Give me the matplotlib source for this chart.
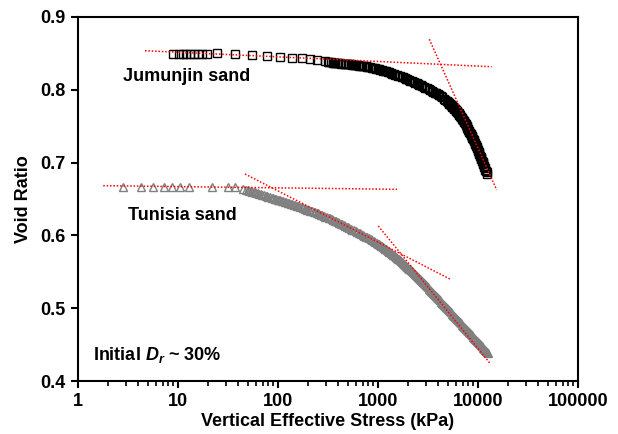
import matplotlib
matplotlib.use("Agg")
import matplotlib.pyplot as plt
from matplotlib.ticker import FixedLocator, FixedFormatter, LogLocator, NullFormatter

plt.rcParams['font.family'] = ['Liberation Sans', 'DejaVu Sans']
plt.rcParams['font.weight'] = 'bold'
plt.rcParams['mathtext.fontset'] = 'custom'
plt.rcParams['mathtext.rm'] = 'Liberation Sans:bold'
plt.rcParams['mathtext.it'] = 'Liberation Sans:bold:italic'

# ---- Jumunjin sand (vertical effective stress kPa, void ratio) ----
jum_stress = [8.9, 10.2, 11.2, 12.0, 13.2, 14.5, 15.8, 17.4, 19.5, 24.5, 37, 55, 78, 105, 138, 174, 209, 245, 295,
              316.2, 327.3, 338.8, 350.8, 363.1, 375.8, 389.0, 402.7, 416.9, 431.5, 446.7, 462.4, 478.6, 495.5,
              512.9, 530.9, 549.5, 568.9, 588.8, 609.5, 631.0, 653.1, 676.1, 699.8, 724.4, 749.9, 776.2, 803.5,
              831.8, 861.0, 891.3, 922.6, 955.0, 988.6, 1023, 1059, 1096, 1135, 1175, 1216, 1259, 1303, 1349,
              1396, 1445, 1496, 1549, 1603, 1660, 1718, 1778, 1841, 1905, 1972, 2042, 2113, 2188, 2265, 2344,
              2427, 2512, 2600, 2692, 2786, 2884, 2985, 3090, 3199, 3311, 3428, 3548, 3673, 3802, 3936, 4074,
              4217, 4365, 4519, 4677, 4842,
              5012, 5070, 5129, 5188, 5248, 5309, 5370, 5433, 5495, 5559, 5623, 5689, 5754, 5821, 5888, 5957,
              6026, 6095, 6166, 6237, 6310, 6383, 6457, 6531, 6607, 6683, 6761, 6839, 6918, 6998, 7079, 7161,
              7244, 7328, 7413, 7499, 7586, 7674, 7762, 7852, 7943, 8035, 8128, 8222, 8318, 8414, 8511, 8610,
              8710, 8810, 8913, 9016, 9120, 9226, 9333, 9441, 9550, 9661, 9772, 9886, 10000, 10116, 10233,
              10351, 10471, 10593, 10715, 10839, 10965, 11092, 11220, 11350, 11482, 11614, 11749, 11885,
              12023, 12162, 12303]
jum_void = [0.8496, 0.8496, 0.8497, 0.8497, 0.8497, 0.8497, 0.8497, 0.8497, 0.8498, 0.8500, 0.8487, 0.8474,
            0.8464, 0.8451, 0.8437, 0.8430, 0.8420, 0.8410, 0.8396,
            0.8380, 0.8378, 0.8376, 0.8374, 0.8372, 0.83695, 0.8367, 0.8365, 0.8363, 0.8361, 0.8359, 0.8357,
            0.8355, 0.8353, 0.8351, 0.83485, 0.8346, 0.83435, 0.8341, 0.83385, 0.8336, 0.83335, 0.8331,
            0.8328, 0.8325, 0.83215, 0.8318, 0.83135, 0.8309, 0.83045, 0.8300, 0.82955, 0.8291, 0.8287,
            0.8283, 0.8277, 0.8271, 0.82645, 0.8258, 0.82515, 0.8245, 0.8238, 0.8231, 0.82235, 0.8216,
            0.82085, 0.8201, 0.8193, 0.8185, 0.8177, 0.8169, 0.81605, 0.8152, 0.81435, 0.8135, 0.81265,
            0.8118, 0.8109, 0.8100, 0.80905, 0.8081, 0.8071, 0.8061, 0.8051, 0.8041, 0.80305, 0.8020,
            0.8009, 0.7998, 0.79865, 0.7975, 0.79625, 0.7950, 0.7937, 0.7924, 0.7910, 0.7896, 0.7879,
            0.7864, 0.7846,
            0.7828, 0.7822, 0.7816, 0.78095, 0.7803, 0.77965, 0.7790, 0.77835, 0.7777, 0.7770, 0.7763,
            0.7756, 0.7749, 0.77415, 0.7734, 0.7726, 0.7718, 0.7710, 0.7702, 0.76935, 0.7685, 0.7676,
            0.7667, 0.7658, 0.7649, 0.76395, 0.7630, 0.76205, 0.7611, 0.7601, 0.7591, 0.75805, 0.7570,
            0.7558, 0.7546, 0.75335, 0.7521, 0.7508, 0.7495, 0.74815, 0.7468, 0.7454, 0.7440, 0.74255,
            0.7411, 0.73965, 0.7382, 0.7367, 0.7352, 0.7337, 0.7322, 0.73065, 0.7291, 0.72755, 0.7260,
            0.7244, 0.7228, 0.7212, 0.7196, 0.71795, 0.7163, 0.71465, 0.7130, 0.7113, 0.7096, 0.7079,
            0.7062, 0.70445, 0.7027, 0.70095, 0.6992, 0.6974, 0.6956, 0.6938, 0.6920, 0.69015, 0.6883,
            0.68645, 0.6846]

# ---- Tunisia sand ----
tun_stress = [2.84, 4.27, 5.67, 7.24, 8.78, 10.5, 13.0, 21.9, 31.9, 37.0, 45.0,
              47.86, 49.55, 51.29, 53.09, 54.95, 56.89, 58.88, 60.95, 63.10, 65.31, 67.61, 69.98, 72.44,
              74.99, 77.62, 80.35, 83.18, 86.10, 89.13, 92.26, 95.50, 98.86, 102.3, 105.9, 109.6, 113.5,
              117.5, 121.6, 125.9, 130.3, 134.9, 139.6, 144.5, 149.6, 154.9, 160.3, 166.0, 171.8, 177.8,
              184.1, 190.5, 197.2, 204.2, 211.3, 218.8, 226.5, 234.4, 242.7, 251.2, 260.0, 269.2, 278.6,
              288.4, 298.5, 309.0, 319.9, 331.1, 342.8, 354.8, 367.3, 380.2, 393.6, 407.4, 421.7, 436.5,
              451.9, 467.7, 484.2, 501.2, 518.8, 537.0, 555.9, 575.4, 595.7, 616.6, 638.3, 660.7, 683.9,
              707.9, 732.8, 758.6, 785.2, 812.8, 841.4, 871.0, 901.6, 933.3, 966.1, 1000,
              1023, 1047, 1072, 1096, 1122, 1148, 1175, 1202, 1230, 1259, 1288, 1318, 1349, 1380, 1413,
              1445, 1479, 1514, 1549, 1585, 1622, 1660, 1698, 1738, 1778, 1820, 1862, 1905, 1950, 1995,
              2042, 2089, 2138, 2188, 2239, 2291, 2344, 2399, 2455, 2512, 2570, 2630, 2692, 2754, 2818,
              2884, 2951, 3020, 3090, 3162, 3236, 3311, 3388, 3467, 3548, 3631, 3715, 3802, 3890, 3981,
              4074, 4169, 4266, 4365, 4467, 4571, 4677, 4786, 4898, 5012, 5129, 5248, 5370, 5495, 5623,
              5754, 5888, 6026, 6166, 6310, 6457, 6607, 6761, 6918, 7079, 7244, 7413, 7586, 7762, 7943,
              8128, 8318, 8511, 8710, 8913, 9120, 9333, 9550, 9772, 10000, 10233, 10471, 10715, 10965,
              11220, 11482, 11749, 12023, 12303, 12589]
tun_void = [0.6670, 0.6670, 0.6670, 0.6670, 0.6670, 0.6670, 0.6670, 0.6670, 0.6667, 0.6660, 0.6640,
            0.6625, 0.66195, 0.6614, 0.6608, 0.6602, 0.6596, 0.6590, 0.65835, 0.6577, 0.65705, 0.6564,
            0.65575, 0.6551, 0.65445, 0.6538, 0.65315, 0.6525, 0.65185, 0.6512, 0.65055, 0.6499, 0.64925,
            0.6486, 0.64795, 0.6473, 0.64665, 0.6460, 0.64535, 0.6447, 0.64405, 0.6434, 0.6427, 0.6420,
            0.6413, 0.6406, 0.6399, 0.6392, 0.63845, 0.6377, 0.63695, 0.6362, 0.63545, 0.6347, 0.63395,
            0.6332, 0.63245, 0.6317, 0.6309, 0.6301, 0.6293, 0.6285, 0.62765, 0.6268, 0.62595, 0.6251,
            0.6243, 0.6235, 0.62245, 0.6214, 0.62035, 0.6193, 0.6183, 0.6173, 0.61625, 0.6152, 0.61415,
            0.6131, 0.6121, 0.6111, 0.61005, 0.6090, 0.60795, 0.6069, 0.60585, 0.6048, 0.60375, 0.6027,
            0.60165, 0.6006, 0.5995, 0.5984, 0.59725, 0.5961, 0.5949, 0.5937, 0.59245, 0.5912, 0.5899,
            0.5886,
            0.5877, 0.5868, 0.58585, 0.5849, 0.5839, 0.5829, 0.5819, 0.5809, 0.57985, 0.5788, 0.57775,
            0.5767, 0.57565, 0.5746, 0.5735, 0.5724, 0.5713, 0.5702, 0.56915, 0.5681, 0.5669, 0.5657,
            0.5645, 0.5633, 0.56205, 0.5608, 0.55955, 0.5583, 0.55705, 0.5558, 0.5545, 0.5532, 0.5519,
            0.5506, 0.54925, 0.5479, 0.54655, 0.5452, 0.54385, 0.5425, 0.54115, 0.5398, 0.5384, 0.5370,
            0.5356, 0.5342, 0.5328, 0.5314, 0.52995, 0.5285, 0.52705, 0.5256, 0.5241, 0.5226, 0.5211,
            0.5196, 0.5181, 0.5166, 0.5151, 0.5136, 0.5121, 0.5106, 0.5091, 0.5076, 0.5061, 0.5046,
            0.5031, 0.5016, 0.5001, 0.4986, 0.4971, 0.4956, 0.4941, 0.4926, 0.4911, 0.4896, 0.4881,
            0.4866, 0.4851, 0.4836, 0.4821, 0.4806, 0.4791, 0.4776, 0.4761, 0.4746, 0.4731, 0.4716,
            0.4701, 0.4686, 0.4671, 0.4656, 0.4641, 0.4626, 0.4611, 0.4596, 0.4581, 0.4566, 0.4551,
            0.4536, 0.45205, 0.4505, 0.44895, 0.4474, 0.44585, 0.4443, 0.44275, 0.4412, 0.4396, 0.4380]

# ---- red dotted construction lines (stress pairs, void ratio pairs) ----
jum_line1_x = [4.68, 13700]
jum_line1_y = [0.8537, 0.8317]
jum_line2_x = [3260, 15380]
jum_line2_y = [0.8694, 0.6624]
tun_line1_x = [1.79, 1550]
tun_line1_y = [0.6683, 0.6633]
tun_line2_x = [46.8, 5250]
tun_line2_y = [0.6843, 0.540]
tun_line3_x = [1007, 13180]
tun_line3_y = [0.6129, 0.4243]

x_ticks = [1, 10, 100, 1000, 10000, 100000]
x_tick_labels = ['1', '10', '100', '1000', '10000', '100000']
y_ticks = [0.4, 0.5, 0.6, 0.7, 0.8, 0.9]
y_tick_labels = ['0.4', '0.5', '0.6', '0.7', '0.8', '0.9']

fig = plt.figure(figsize=(6.18, 4.34), dpi=100)
ax = fig.add_axes([78/618, 1-381/434, 500/618, 364/434])

ax.plot(tun_stress, tun_void, linestyle='none', marker='^', ms=6.0, mfc='none',
        mec='#808080', mew=1.0, zorder=2)
ax.plot(jum_stress, jum_void, linestyle='none', marker='s', ms=5.5, mfc='none',
        mec='black', mew=1.0, zorder=3)

for lx, ly in [(jum_line1_x, jum_line1_y), (jum_line2_x, jum_line2_y),
               (tun_line1_x, tun_line1_y), (tun_line2_x, tun_line2_y),
               (tun_line3_x, tun_line3_y)]:
    ax.plot(lx, ly, color='red', lw=1.1, linestyle=(0, (1, 1.2)), zorder=4)

ax.set_xscale('log')
ax.set_xlim(1, 100000)
ax.set_ylim(0.4, 0.9)
ax.xaxis.set_major_locator(FixedLocator(x_ticks))
ax.xaxis.set_major_formatter(FixedFormatter(x_tick_labels))
ax.xaxis.set_minor_locator(LogLocator(base=10, subs=[2, 3, 4, 5, 6, 7, 8, 9]))
ax.xaxis.set_minor_formatter(NullFormatter())
ax.yaxis.set_major_locator(FixedLocator(y_ticks))
ax.yaxis.set_major_formatter(FixedFormatter(y_tick_labels))

for s in ax.spines.values():
    s.set_linewidth(1.5)
ax.tick_params(axis='both', which='major', direction='out', length=5, width=1.5,
               labelsize=13, pad=4)
ax.tick_params(axis='x', which='minor', direction='out', length=3.5, width=1.2)
for lab in ax.get_xticklabels() + ax.get_yticklabels():
    lab.set_fontweight('bold')

ax.set_xlabel('Vertical Effective Stress (kPa)', fontsize=13, fontweight='bold', labelpad=2)
ax.set_ylabel('Void Ratio', fontsize=13, fontweight='bold', labelpad=6)

ax.text(2.82, 0.8176, 'Jumunjin sand', fontsize=13, fontweight='bold', va='center', ha='left')
ax.text(3.16, 0.628, 'Tunisia sand', fontsize=13, fontweight='bold', va='center', ha='left')
ax.text(1.41, 0.4357, r'Initial $D_r$ ~ 30%', fontsize=13, fontweight='bold', va='center', ha='left')

fig.savefig('out.png', dpi=100)
